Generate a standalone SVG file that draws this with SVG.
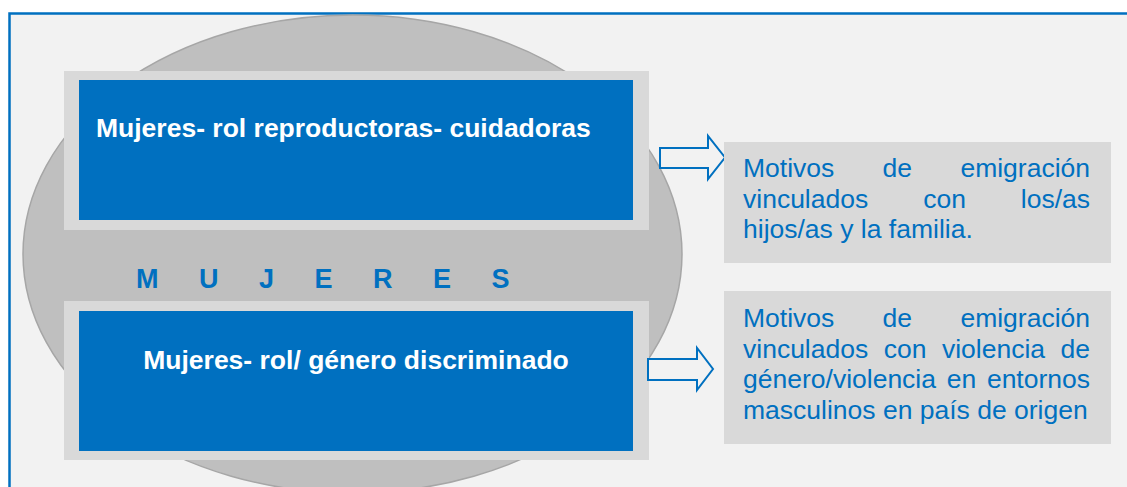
<svg xmlns="http://www.w3.org/2000/svg" width="1127" height="487" viewBox="0 0 1127 487">
<style>
.frame{fill:#F2F2F2;stroke:#0070C0;stroke-width:2.5}
.ell{fill:#BFBFBF;stroke:#A6A6A6;stroke-width:1.5}
.outer{fill:#D9D9D9}
.inner{fill:#0070C0}
.title{font-family:"Liberation Sans",Arial,sans-serif;font-weight:bold;font-size:26.5px;fill:#FFFFFF}
.big{font-family:"Liberation Sans",Arial,sans-serif;font-weight:bold;font-size:27px;fill:#0070C0;letter-spacing:16.5px}
.side{fill:#D9D9D9}
.stxt{font-family:"Liberation Sans",Arial,sans-serif;font-size:26.5px;fill:#0070C0}
.arrow{fill:#F2F2F2;stroke:#0070C0;stroke-width:2;stroke-linejoin:miter}
</style>
<rect width="1127" height="487" fill="#FFFFFF"/>
<rect class="frame" x="9.5" y="13.5" width="1130" height="490"/>
<g id="mujeres-ellipse">
<ellipse class="ell" cx="352.5" cy="254" rx="329.5" ry="239"/>
<text class="big" x="136" y="288">M U J E R E S</text>
</g>
<g id="box-reproductoras">
<rect class="outer" x="64" y="71" width="585" height="159"/>
<rect class="inner" x="79" y="80" width="554" height="140"/>
<text class="title" x="96" y="137">Mujeres- rol reproductoras- cuidadoras</text>
</g>
<g id="box-discriminado">
<rect class="outer" x="64" y="301" width="585" height="159"/>
<rect class="inner" x="79" y="311" width="554" height="140"/>
<text class="title" x="356" y="369" text-anchor="middle">Mujeres- rol/ género discriminado</text>
</g>
<g id="connectors">
<polygon class="arrow" points="660,148 708,148 708,136 725,157.5 708,179 708,168 660,168"/>
<polygon class="arrow" points="648,359 697,359 697,348 713,369 697,390 697,380 648,380"/>
</g>
<g id="motivos-familia">
<rect class="side" x="724" y="142" width="387" height="121"/>
<text class="stxt" y="177"><tspan x="743">Motivos</tspan><tspan x="882.6">de</tspan><tspan x="960.4">emigración</tspan></text>
<text class="stxt" y="207.5"><tspan x="743">vinculados</tspan><tspan x="923.2">con</tspan><tspan x="1020.8">los/as</tspan></text>
<text class="stxt" x="743" y="238">hijos/as y la familia.</text>
</g>
<g id="motivos-violencia">
<rect class="side" x="724" y="291" width="387" height="153"/>
<text class="stxt" y="327"><tspan x="743">Motivos</tspan><tspan x="882.6">de</tspan><tspan x="960.4">emigración</tspan></text>
<text class="stxt" y="357.5"><tspan x="743">vinculados</tspan><tspan x="883.7">con</tspan><tspan x="941.9">violencia</tspan><tspan x="1060.5">de</tspan></text>
<text class="stxt" y="388"><tspan x="743">género/violencia</tspan><tspan x="946.7">en</tspan><tspan x="986.9">entornos</tspan></text>
<text class="stxt" x="743" y="418.5">masculinos en país de origen</text>
</g>
</svg>
